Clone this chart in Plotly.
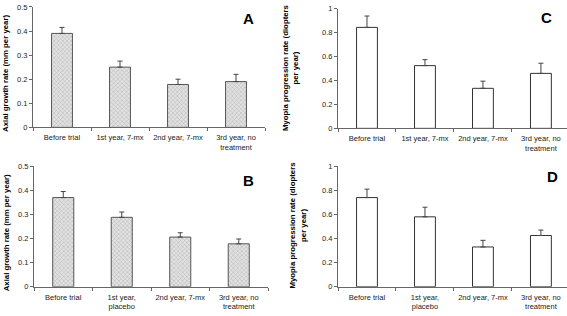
import plotly.graph_objects as go

W, H = 567, 316

cats_top = ["Before trial", "1st year, 7-mx", "2nd year, 7-mx", "3rd year, no<br>treatment"]
cats_bot = ["Before trial", "1st year,<br>placebo", "2nd year, 7-mx", "3rd year, no<br>treatment"]

axial_A = [0.39, 0.25, 0.178, 0.19]
axial_A_err = [0.025, 0.025, 0.022, 0.03]
axial_B = [0.37, 0.288, 0.206, 0.178]
axial_B_err = [0.025, 0.022, 0.018, 0.02]
myopia_C = [0.845, 0.525, 0.335, 0.46]
myopia_C_err = [0.095, 0.05, 0.06, 0.085]
myopia_D = [0.74, 0.58, 0.33, 0.425]
myopia_D_err = [0.07, 0.08, 0.055, 0.045]

y_ticks_axial = [0, 0.1, 0.2, 0.3, 0.4, 0.5]
y_ticks_myopia = [0, 0.2, 0.4, 0.6, 0.8, 1]

FONT = "Liberation Sans, Arial, sans-serif"

def px_x(p):
    return p / W

def px_y(p):
    return 1 - p / H

# panel geometry in pixels: (x0, x1, ytop, ybottom, xrange)
panels = {
    "A": (33, 265, 3, 127, [-0.5, 3.5]),
    "B": (34, 268, 167, 291, [-0.5, 3.5]),
    "C": (338, 567, 5, 128, [-0.5, 3.45]),
    "D": (338, 567, 167, 291, [-0.5, 3.45]),
}

fig = go.Figure()

specs = [
    ("A", cats_top, axial_A, axial_A_err, True, [0, 0.5], y_ticks_axial),
    ("B", cats_bot, axial_B, axial_B_err, True, [0, 0.5], y_ticks_axial),
    ("C", cats_top, myopia_C, myopia_C_err, False, [0, 1], y_ticks_myopia),
    ("D", cats_bot, myopia_D, myopia_D_err, False, [0, 1], y_ticks_myopia),
]

layout = {}
for i, (name, cats, vals, errs, hatched, yr, yt) in enumerate(specs):
    n = "" if i == 0 else str(i + 1)
    xa, ya = "x" + n, "y" + n
    if hatched:
        marker = dict(color="#d8d8d8",
                      line=dict(color="#555555", width=1),
                      pattern=dict(shape="x", size=3, fgcolor="#808080",
                                   bgcolor="#e2e2e2", solidity=0.3))
    else:
        marker = dict(color="white", line=dict(color="#333333", width=1))
    fig.add_trace(go.Bar(
        x=cats, y=vals, xaxis=xa, yaxis=ya, width=0.36, marker=marker,
        error_y=dict(type="data", array=errs, arrayminus=[0] * len(errs),
                     symmetric=False, color="#444444", thickness=1, width=2.5),
        showlegend=False, hoverinfo="skip",
    ))
    x0, x1, yt0, yb0, xr = panels[name]
    layout["xaxis" + n] = dict(
        domain=[px_x(x0), px_x(x1)], anchor=ya, type="category", range=xr,
        showline=True, linecolor="#666666", linewidth=1,
        ticks="outside", ticklen=3, tickcolor="#666666", tickson="boundaries",
        tickangle=0, ticklabelstandoff=3,
        tickfont=dict(family=FONT, size=7.5, color="#222222"),
        showgrid=False, zeroline=False, fixedrange=True,
    )
    layout["yaxis" + n] = dict(
        domain=[px_y(yb0), px_y(yt0)], anchor=xa, range=yr,
        tickvals=yt, showline=True, linecolor="#666666", linewidth=1,
        ticks="outside", ticklen=3, tickcolor="#666666",
        tickfont=dict(family=FONT, size=7.5, color="#222222"),
        showgrid=False, zeroline=False, fixedrange=True,
    )

annotations = []
# panel letters
for letter, (cx, cy) in {"A": (248, 15), "B": (248, 182), "C": (546, 14), "D": (552, 178)}.items():
    annotations.append(dict(x=px_x(cx), y=px_y(cy), xref="paper", yref="paper",
                            text="<b>%s</b>" % letter, showarrow=False,
                            font=dict(family=FONT, size=15, color="black"),
                            xanchor="center", yanchor="middle"))
# y-axis titles
ytitles = [
    ("Axial growth rate (mm per year)", 6, 72),
    ("Axial growth rate (mm per year)", 6, 236),
    ("Myopia progression rate (diopters<br>per year)", 290, 66),
    ("Myopia progression rate (diopters<br>per year)", 298, 228),
]
for txt, cx, cy in ytitles:
    annotations.append(dict(x=px_x(cx), y=px_y(cy), xref="paper", yref="paper",
                            text="<b>%s</b>" % txt, showarrow=False, textangle=-90,
                            font=dict(family=FONT, size=7.8, color="black"),
                            xanchor="center", yanchor="middle"))

fig.update_layout(
    width=W, height=H, margin=dict(l=0, r=0, t=0, b=0),
    paper_bgcolor="white", plot_bgcolor="white",
    annotations=annotations, **layout,
)

fig.write_html("out.html", config={"displayModeBar": False, "staticPlot": True},
               post_script="document.body.style.margin='0';document.body.style.overflow='hidden';")
